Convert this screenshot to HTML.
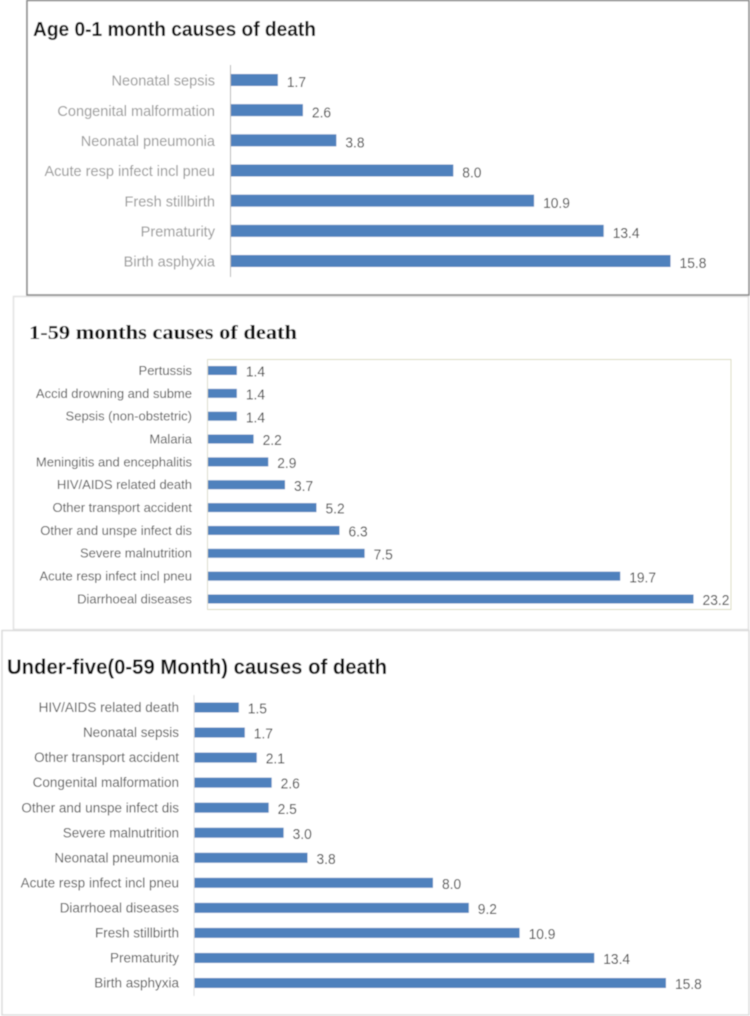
<!DOCTYPE html>
<html>
<head>
<meta charset="utf-8">
<style>
html,body{margin:0;padding:0;background:#fff;width:750px;height:1016px;overflow:hidden}
svg{display:block}
text{font-family:"Liberation Sans",sans-serif}
</style>
</head>
<body>
<svg id="figure" width="750" height="1016" viewBox="0 0 750 1016" xmlns="http://www.w3.org/2000/svg">
  <defs><filter id="soft" x="-5%" y="-5%" width="110%" height="110%"><feGaussianBlur stdDeviation="0.45"/></filter></defs>
  <g id="root" filter="url(#soft)">
    <rect x="13.5" y="296.5" width="735" height="333" fill="#fff" stroke="#e2e2e2" stroke-width="1.5"/>
    <rect x="2" y="630.5" width="747" height="384.5" fill="#fff" stroke="#dcdcdc" stroke-width="1.5"/>
    <rect x="27" y="0.5" width="722" height="294.5" fill="#fff" stroke="#8a8a8a" stroke-width="1.6"/>
    <rect x="207.5" y="359.5" width="523.5" height="250" fill="none" stroke="#dcdcc0" stroke-width="1"/>
    <text x="33" y="36" font-size="20" font-weight="700" fill="#111" textLength="283" lengthAdjust="spacingAndGlyphs">Age 0-1 month causes of death</text>
    <text x="29" y="339" font-size="20" font-weight="700" fill="#111" style="font-family:'Liberation Serif',serif" textLength="268" lengthAdjust="spacingAndGlyphs">1-59 months causes of death</text>
    <text x="7" y="674" font-size="21" font-weight="700" fill="#111" textLength="380" lengthAdjust="spacingAndGlyphs">Under-five(0-59 Month) causes of death</text>
    <g id="charts"></g>
  </g>
</svg>
<script>
const chart1Categories = ["Neonatal sepsis","Congenital malformation","Neonatal pneumonia","Acute resp infect incl pneu","Fresh stillbirth","Prematurity","Birth asphyxia"];
const chart1Values = [1.7,2.6,3.8,8.0,10.9,13.4,15.8];
const chart2Categories = ["Pertussis","Accid drowning and subme","Sepsis (non-obstetric)","Malaria","Meningitis and encephalitis","HIV/AIDS related death","Other transport accident","Other and unspe infect dis","Severe malnutrition","Acute resp infect incl pneu","Diarrhoeal diseases"];
const chart2Values = [1.4,1.4,1.4,2.2,2.9,3.7,5.2,6.3,7.5,19.7,23.2];
const chart3Categories = ["HIV/AIDS related death","Neonatal sepsis","Other transport accident","Congenital malformation","Other and unspe infect dis","Severe malnutrition","Neonatal pneumonia","Acute resp infect incl pneu","Diarrhoeal diseases","Fresh stillbirth","Prematurity","Birth asphyxia"];
const chart3Values = [1.5,1.7,2.1,2.6,2.5,3.0,3.8,8.0,9.2,10.9,13.4,15.8];

const NS = "http://www.w3.org/2000/svg";
const host = document.getElementById("charts");

function drawChart(prefix, categories, values, cfg) {
  const xScale = v => cfg.x0 + v * cfg.pxPerUnit;
  const yScale = i => cfg.yFirst + i * (cfg.yLast - cfg.yFirst) / (categories.length - 1);

  const g = document.createElementNS(NS, "g");
  
  
  host.appendChild(g);

  const axis = document.createElementNS(NS, "line");
  
  
  axis.setAttribute("x1", cfg.x0);
  axis.setAttribute("x2", cfg.x0);
  axis.setAttribute("y1", cfg.axisTop);
  axis.setAttribute("y2", cfg.axisBottom);
  axis.setAttribute("stroke", cfg.axisColor);
  axis.setAttribute("stroke-width", "1");
  g.appendChild(axis);

  categories.forEach((cat, i) => {
    const y = yScale(i);

    const label = document.createElementNS(NS, "text");
    
    
    label.setAttribute("text-anchor", "end");
    label.setAttribute("font-size", cfg.labelSize);
    label.setAttribute("fill", cfg.labelColor);
    label.setAttribute("transform", "translate(" + cfg.labelRight + " " + (y + cfg.labelSize * 0.34 + cfg.labelDy) + ") scale(" + cfg.labelSquash + " 1)");
    label.textContent = cat;
    g.appendChild(label);

    const bar = document.createElementNS(NS, "rect");
    
    
    bar.setAttribute("x", cfg.x0 + 0.5);
    bar.setAttribute("y", y - cfg.barHeight / 2);
    bar.setAttribute("width", xScale(values[i]) - cfg.x0 - 0.5);
    bar.setAttribute("height", cfg.barHeight);
    bar.setAttribute("fill", "#4f81bd");
    g.appendChild(bar);

    const val = document.createElementNS(NS, "text");
    
    
    val.setAttribute("font-size", cfg.valueSize);
    val.setAttribute("fill", "#444");
    val.setAttribute("transform", "translate(" + (xScale(values[i]) + cfg.valueGap) + " " + (y + cfg.valueSize * 0.34 + cfg.valueDy) + ") scale(0.92 1)");
    val.textContent = values[i].toFixed(1);
    g.appendChild(val);
  });
}

drawChart("chart-1", chart1Categories, chart1Values, {
  x0: 230.5, pxPerUnit: 27.85, yFirst: 80, yLast: 261, barHeight: 12,
  axisTop: 65, axisBottom: 277, axisColor: "#b5b5b5",
  labelRight: 215, labelSize: 15, labelSquash: 0.97, labelDy: 0.5, labelColor: "#999",
  valueSize: 15, valueGap: 9, valueDy: 2
});
drawChart("chart-2", chart2Categories, chart2Values, {
  x0: 207.5, pxPerUnit: 20.95, yFirst: 370.5, yLast: 599, barHeight: 9,
  axisTop: 359, axisBottom: 610, axisColor: "#dcdccc",
  labelRight: 192, labelSize: 13, labelSquash: 1.0, labelDy: 0, labelColor: "#555",
  valueSize: 15, valueGap: 9, valueDy: 1
});
drawChart("chart-3", chart3Categories, chart3Values, {
  x0: 194, pxPerUnit: 29.87, yFirst: 707.5, yLast: 983, barHeight: 10,
  axisTop: 695, axisBottom: 996, axisColor: "#dddddd",
  labelRight: 179, labelSize: 13.5, labelSquash: 1.0, labelDy: 0, labelColor: "#555",
  valueSize: 15, valueGap: 9, valueDy: 1
});
</script>
</body>
</html>
